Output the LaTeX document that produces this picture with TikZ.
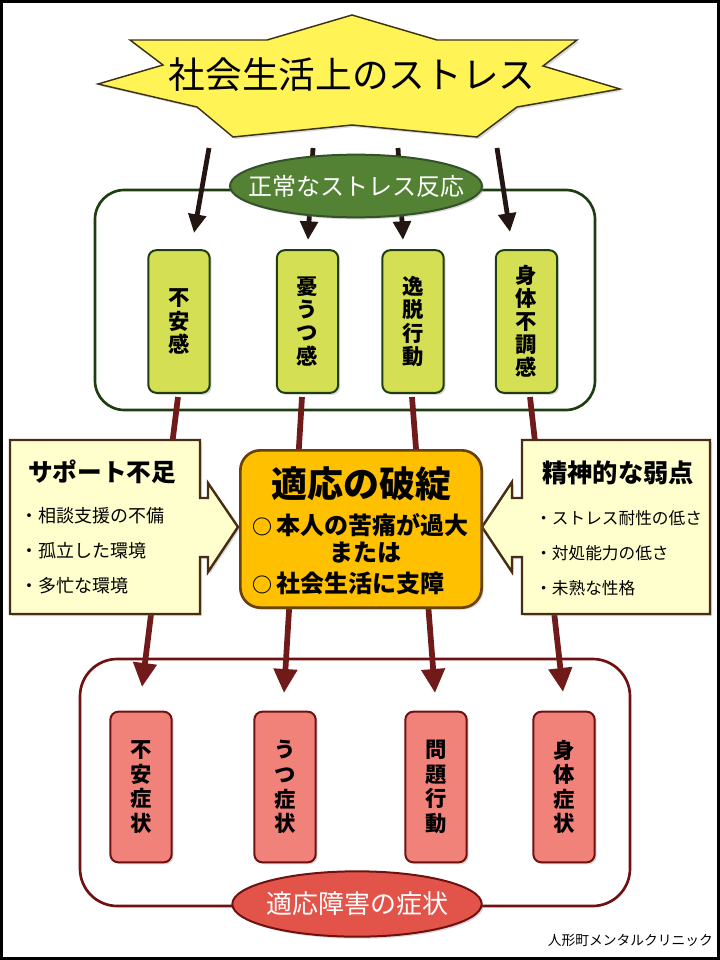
\documentclass[tikz,border=0pt]{standalone}
\usepackage{fontspec}
\newfontfamily\jp{Noto Sans CJK JP}
\usetikzlibrary{arrows.meta,shadows,shapes.geometric}

\definecolor{starfill}{RGB}{255,243,85}
\definecolor{starline}{RGB}{60,50,20}
\definecolor{greenline}{RGB}{30,62,18}
\definecolor{leaffill}{RGB}{212,223,84}
\definecolor{ovalgreen}{RGB}{84,130,53}
\definecolor{redline}{RGB}{112,16,16}
\definecolor{pinkfill}{RGB}{240,130,122}
\definecolor{ovalred}{RGB}{226,84,74}
\definecolor{hatanfill}{RGB}{255,192,0}
\definecolor{hatanline}{RGB}{105,65,10}
\definecolor{notefill}{RGB}{255,255,206}
\definecolor{noteline}{RGB}{72,45,20}
\definecolor{arrowblack}{RGB}{35,22,18}
\definecolor{arrowred}{RGB}{112,26,26}

\begin{document}
\begin{tikzpicture}[x=0.75pt,y=0.75pt,yscale=-1,xscale=1,
  softshadow/.style={drop shadow={opacity=0.3,shadow xshift=1.5pt,shadow yshift=-1.5pt}},
  leafbox/.style={draw=greenline,line width=1.5pt,fill=leaffill,rounded corners=6pt,
    minimum width=46pt,minimum height=107pt,inner sep=0pt,align=center,softshadow,
    font=\jp\bfseries\fontsize{16}{17.3}\selectfont},
  sympbox/.style={draw=redline,line width=1.5pt,fill=pinkfill,rounded corners=6pt,
    minimum width=46pt,minimum height=113pt,inner sep=0pt,align=center,softshadow,
    font=\jp\bfseries\fontsize{16}{18.4}\selectfont},
  oval/.style={ellipse,line width=1.5pt,inner sep=0pt,softshadow},
  blackarrow/.style={draw=arrowblack,line width=3.6pt,-{Triangle[width=13pt,length=14pt]}},
  redarrow/.style={draw=arrowred,line width=4.3pt,-{Triangle[width=17pt,length=18pt]}},
  note/.style={draw=noteline,line width=1.8pt,fill=notefill,line join=miter},
  itemtext/.style={anchor=west,inner sep=0pt,font=\jp\fontsize{13.5}{15}\selectfont}]
\useasboundingbox (0,0) rectangle (720,960);

%Shape: Frame
\draw [line width=2.2pt] (1.5,1.5) rectangle (718.5,958.5);

%Shape: Rounded Rect (normal reaction)
\draw [draw=greenline,line width=2pt,rounded corners=22pt] (95,190) rectangle (595,410);
%Shape: Rounded Rect (symptoms)
\draw [draw=redline,line width=2pt,rounded corners=28pt] (80,659) rectangle (630,906);

%Straight Lines: stress to reactions
\coordinate (bs1) at (209,148); \coordinate (be1) at (194,233);
\coordinate (bs2) at (313,148); \coordinate (be2) at (308,240);
\coordinate (bs3) at (398,148); \coordinate (be3) at (403,240);
\coordinate (bs4) at (497,148); \coordinate (be4) at (510,232);
\foreach \i in {1,...,4}
  \draw [blackarrow] (bs\i) -- (be\i);

%Straight Lines: reactions to symptoms
\coordinate (rs1) at (178,397); \coordinate (re1) at (142,687);
\coordinate (rs2) at (302,397); \coordinate (re2) at (284,693);
\coordinate (rs3) at (412,397); \coordinate (re3) at (435,693);
\coordinate (rs4) at (530,397); \coordinate (re4) at (563,692);
\foreach \i in {1,...,4}
  \draw [redarrow] (rs\i) -- (re\i);

%Shape: Ellipse
\node [oval,draw=greenline!90,fill=ovalgreen,minimum width=189pt,minimum height=47pt] (normal) at (356,186) {};
\node [inner sep=0pt,text=white,font=\jp\fontsize{18}{20}\selectfont] (normaltext) at (normal.center) {正常なストレス反応};
%Shape: Ellipse
\node [oval,draw=redline,fill=ovalred,minimum width=187pt,minimum height=49pt] (adjust) at (357,904) {};
\node [inner sep=0pt,text=white,font=\jp\fontsize{19.5}{21}\selectfont] (adjusttext) at (adjust.center) {適応障害の症状};

%Shape: Star
\draw [draw=starline,line width=1.1pt,fill=starfill,line join=miter,softshadow]
  (352,15) -- (437,40) -- (577,40) -- (543,66) -- (620,89) -- (517,107)
  -- (477,137) -- (352,125) -- (233,137) -- (197,107) -- (98,84) -- (163,65)
  -- (130,40) -- (267,40) -- cycle;
% Text Node
\node [inner sep=0pt,font=\jp\fontsize{27.5}{30}\selectfont] (stress) at (352,75) {社会生活上のストレス};

%Shapes: reactions
\node [leafbox] (fuankan) at (179,321.5) {不\\安\\感};
\node [leafbox] (yuutsu) at (307.5,321.5) {憂\\う\\つ\\感};
\node [leafbox] (itsudatsu) at (413,321.5) {逸\\脱\\行\\動};
\node [leafbox] (shintai) at (526.5,321.5) {身\\体\\不\\調\\感};

%Shapes: symptoms
\node [sympbox] (fuansho) at (141,787) {不\\安\\症\\状};
\node [sympbox] (utsusho) at (285,787) {う\\つ\\症\\状};
\node [sympbox] (mondai) at (436,787) {問\\題\\行\\動};
\node [sympbox] (shintaisho) at (564,787) {身\\体\\症\\状};

%Shape: Callout (support)
\draw [note,softshadow] (10,440) -- (200,440) -- (200,498) -- (208,498) -- (208,483)
  -- (238,527) -- (208,572) -- (208,557) -- (200,557) -- (200,614) -- (10,614) -- cycle;
%Shape: Callout (weakness)
\draw [note,softshadow] (710,440) -- (522,440) -- (522,498) -- (512,498) -- (512,482)
  -- (482,527) -- (512,572) -- (512,557) -- (522,557) -- (522,614) -- (710,614) -- cycle;

% Text Node
\node [inner sep=0pt,font=\jp\bfseries\fontsize{18.5}{20}\selectfont] (support) at (102,472) {サポート不足};
\node [itemtext] (soudan) at (20,516) {・相談支援の不備};
\node [itemtext] (koritsu) at (20,551) {・孤立した環境};
\node [itemtext] (tabou) at (20,586) {・多忙な環境};
% Text Node
\node [inner sep=0pt,font=\jp\bfseries\fontsize{19}{21}\selectfont] (weak) at (618,473) {精神的な弱点};
\node [itemtext,font=\jp\fontsize{12.5}{14}\selectfont] (taisei) at (535,518) {・ストレス耐性の低さ};
\node [itemtext,font=\jp\fontsize{12.5}{14}\selectfont] (taisho) at (535,553) {・対処能力の低さ};
\node [itemtext,font=\jp\fontsize{12.5}{14}\selectfont] (mijuku) at (535,588) {・未熟な性格};

%Shape: Rounded Rect (breakdown)
\node [draw=hatanline,line width=2pt,fill=hatanfill,rounded corners=15pt,
  minimum width=181pt,minimum height=118pt,softshadow] (hatan) at (361,529) {};
% Text Node
\node [inner sep=0pt,font=\jp\bfseries\fontsize{27}{29}\selectfont] (hatantitle) at (361,484) {適応の破綻};
\node [anchor=west,inner sep=0pt,font=\jp\bfseries\fontsize{18}{20}\selectfont] (kutsuu) at (252,525) {{\fontsize{15}{16}\selectfont ○}\hspace{3pt}本人の苦痛が過大};
\node [inner sep=0pt,font=\jp\bfseries\fontsize{18}{20}\selectfont] (mataha) at (365,553) {または};
\node [anchor=west,inner sep=0pt,font=\jp\bfseries\fontsize{18}{20}\selectfont] (shishou) at (252,583) {{\fontsize{15}{16}\selectfont ○}\hspace{3pt}社会生活に支障};

% Text Node
\node [anchor=east,inner sep=0pt,font=\jp\fontsize{10.3}{12}\selectfont] (clinic) at (713,940) {人形町メンタルクリニック};

\end{tikzpicture}
\end{document}
